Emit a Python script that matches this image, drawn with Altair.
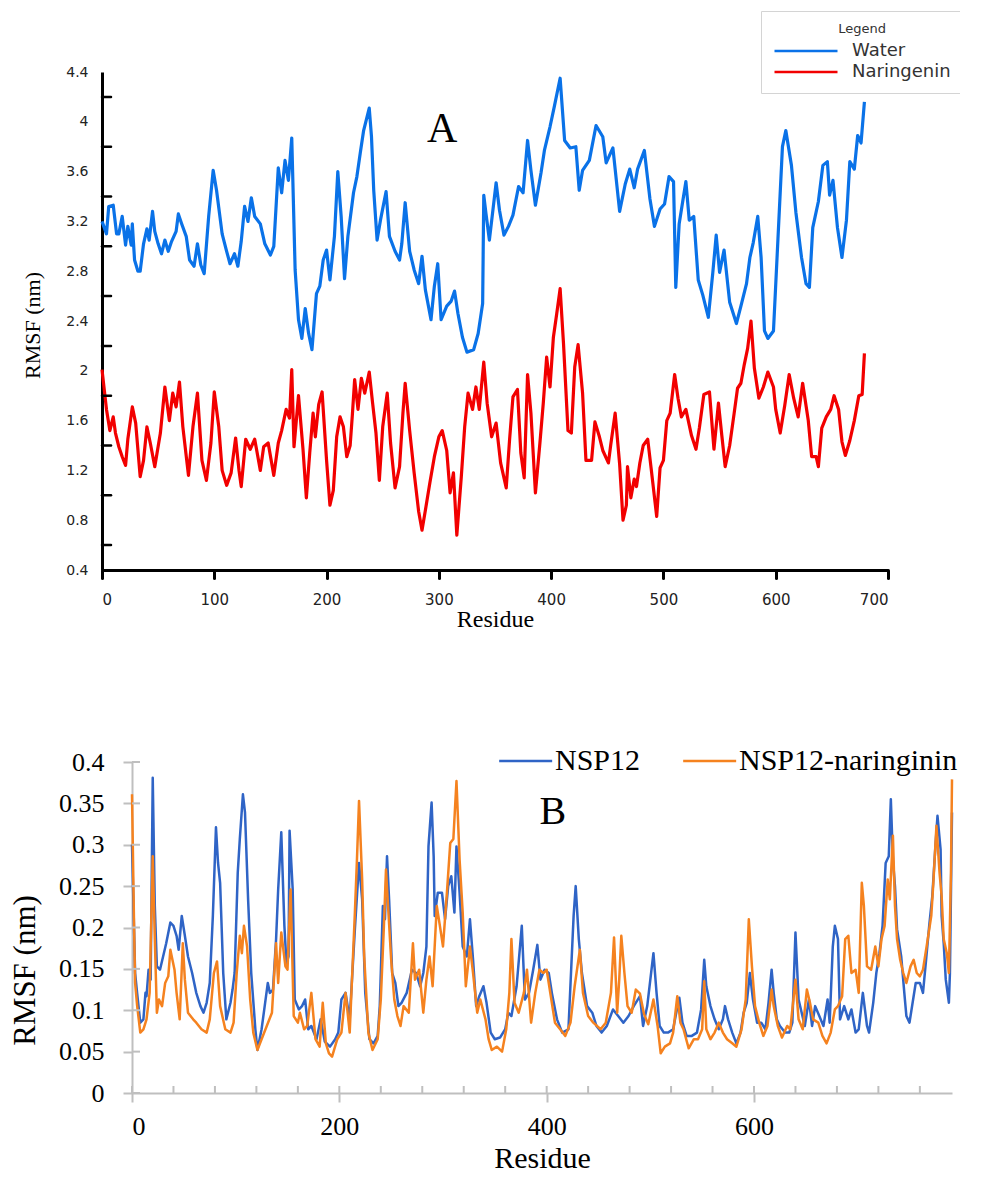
import altair as alt
import pandas as pd

# ---------------- Panel A data ----------------
water_res = [0, 4, 6, 10, 13, 15, 18, 21, 23, 26, 27, 29, 32, 34, 37, 40, 42, 45, 47, 50,
             53, 56, 59, 62, 66, 68, 71, 75, 78, 82, 85, 88, 91, 95, 99, 102, 107, 111, 114, 118,
             121, 124, 127, 130, 133, 136, 141, 145, 150, 153, 157, 160, 163, 166, 169, 172, 175, 178, 181, 184,
             187, 191, 194, 197, 200, 203, 207, 210, 213, 216, 219, 224, 227, 230, 233, 238, 240, 242, 245, 248,
             253, 256, 261, 265, 267, 270, 274, 278, 282, 285, 288, 293, 296, 299, 302, 307, 311, 314, 317, 321,
             325, 331, 335, 339, 340, 342, 345, 351, 354, 358, 362, 366, 371, 375, 379, 382, 386, 391, 394, 399,
             403, 408, 412, 417, 422, 425, 428, 434, 440, 446, 449, 455, 461, 466, 470, 474, 477, 483, 488, 492,
             497, 501, 505, 509, 511, 514, 520, 523, 527, 531, 535, 540, 544, 547, 550, 554, 559, 565, 569, 574,
             577, 580, 584, 587, 590, 593, 598, 602, 606, 609, 614, 618, 623, 627, 630, 633, 638, 642, 646, 648,
             651, 655, 659, 663, 666, 670, 673, 676, 679]
water_rmsf = [3.20, 3.10, 3.32, 3.33, 3.10, 3.10, 3.24, 3.01, 3.16, 3.01, 3.18, 2.89, 2.80, 2.80, 3.02, 3.14, 3.05, 3.28, 3.12, 3.02,
              2.94, 3.05, 2.96, 3.04, 3.12, 3.26, 3.18, 3.08, 2.89, 2.84, 3.02, 2.85, 2.78, 3.24, 3.61, 3.45, 3.10, 2.96, 2.86, 2.94,
              2.84, 3.04, 3.32, 3.20, 3.39, 3.24, 3.18, 3.02, 2.93, 3.00, 3.63, 3.43, 3.69, 3.53, 3.87, 2.81, 2.41, 2.26, 2.50, 2.30,
              2.17, 2.62, 2.68, 2.89, 2.97, 2.73, 3.08, 3.60, 3.24, 2.74, 3.08, 3.43, 3.56, 3.75, 3.93, 4.11, 3.88, 3.45, 3.05, 3.21,
              3.44, 3.08, 2.96, 2.89, 3.02, 3.35, 2.96, 2.81, 2.70, 2.92, 2.65, 2.41, 2.68, 2.86, 2.41, 2.52, 2.56, 2.64, 2.46, 2.27,
              2.15, 2.17, 2.30, 2.54, 3.41, 3.26, 3.05, 3.51, 3.29, 3.09, 3.16, 3.25, 3.48, 3.43, 3.85, 3.61, 3.33, 3.59, 3.77, 3.96,
              4.13, 4.35, 3.85, 3.79, 3.80, 3.45, 3.61, 3.69, 3.97, 3.88, 3.67, 3.79, 3.28, 3.50, 3.62, 3.47, 3.62, 3.77, 3.38, 3.16,
              3.30, 3.34, 3.56, 3.52, 2.67, 3.18, 3.52, 3.21, 3.24, 2.73, 2.61, 2.43, 2.79, 3.09, 2.79, 2.97, 2.55, 2.38, 2.52, 2.70,
              2.91, 3.03, 3.24, 2.91, 2.32, 2.26, 2.32, 3.06, 3.80, 3.93, 3.65, 3.27, 2.91, 2.70, 2.67, 3.15, 3.36, 3.65, 3.68, 3.41,
              3.53, 3.15, 2.91, 3.21, 3.68, 3.62, 3.89, 3.83, 4.16]

nar_res = [0, 4, 7, 10, 12, 15, 18, 21, 23, 27, 30, 34, 37, 40, 43, 47, 52, 56, 60, 63,
           66, 69, 72, 77, 81, 85, 89, 93, 97, 100, 104, 107, 111, 115, 119, 122, 124, 128, 132, 136,
           141, 144, 148, 153, 157, 160, 164, 167, 169, 171, 175, 179, 182, 185, 188, 190, 193, 196, 200, 203,
           206, 209, 212, 215, 218, 221, 223, 225, 228, 231, 234, 238, 241, 244, 247, 250, 254, 257, 261, 265,
           268, 270, 274, 278, 282, 285, 288, 292, 296, 300, 303, 307, 310, 313, 316, 320, 323, 326, 330, 333,
           336, 340, 343, 347, 351, 355, 360, 363, 366, 370, 373, 376, 379, 382, 386, 390, 393, 396, 399, 402,
           405, 408, 411, 415, 418, 421, 424, 428, 431, 436, 439, 443, 446, 451, 453, 457, 461, 464, 467, 468,
           471, 474, 476, 479, 482, 486, 489, 494, 497, 500, 503, 506, 510, 513, 516, 520, 525, 529, 532, 536,
           541, 545, 549, 552, 555, 559, 563, 566, 569, 572, 575, 578, 581, 585, 589, 593, 598, 600, 604, 608,
           612, 616, 620, 624, 629, 632, 636, 638, 641, 645, 649, 652, 656, 659, 662, 666, 670, 674, 677, 679]
nar_rmsf = [2.01, 1.69, 1.52, 1.63, 1.50, 1.39, 1.31, 1.24, 1.45, 1.71, 1.58, 1.15, 1.28, 1.55, 1.42, 1.23, 1.50, 1.87, 1.60, 1.82,
            1.71, 1.91, 1.55, 1.16, 1.55, 1.82, 1.28, 1.12, 1.42, 1.83, 1.55, 1.20, 1.08, 1.18, 1.46, 1.20, 1.07, 1.45, 1.37, 1.45,
            1.20, 1.39, 1.42, 1.16, 1.42, 1.52, 1.69, 1.62, 2.01, 1.39, 1.80, 1.37, 0.98, 1.34, 1.66, 1.47, 1.73, 1.83, 1.28, 0.92,
            1.04, 1.47, 1.63, 1.55, 1.31, 1.40, 1.65, 1.93, 1.69, 1.94, 1.82, 1.99, 1.74, 1.50, 1.12, 1.55, 1.82, 1.42, 1.06, 1.23,
            1.66, 1.90, 1.52, 1.18, 0.87, 0.72, 0.88, 1.10, 1.31, 1.47, 1.52, 1.36, 1.02, 1.18, 0.68, 1.15, 1.55, 1.82, 1.69, 1.87,
            1.69, 2.07, 1.74, 1.47, 1.58, 1.26, 1.06, 1.45, 1.79, 1.85, 1.34, 1.14, 1.97, 1.66, 1.02, 1.42, 1.74, 2.11, 1.87, 2.27,
            2.46, 2.66, 2.22, 1.52, 1.50, 2.03, 2.21, 1.82, 1.28, 1.28, 1.59, 1.47, 1.36, 1.26, 1.40, 1.66, 1.25, 0.80, 0.92, 1.23,
            0.98, 1.13, 1.07, 1.26, 1.40, 1.45, 1.22, 0.83, 1.22, 1.28, 1.60, 1.66, 1.97, 1.78, 1.63, 1.69, 1.48, 1.37, 1.54, 1.81,
            1.83, 1.37, 1.74, 1.48, 1.23, 1.40, 1.66, 1.86, 1.90, 2.05, 2.18, 2.40, 2.02, 1.78, 1.87, 1.99, 1.87, 1.69, 1.50, 1.72,
            1.97, 1.78, 1.63, 1.90, 1.60, 1.31, 1.31, 1.23, 1.54, 1.63, 1.69, 1.80, 1.69, 1.43, 1.32, 1.44, 1.60, 1.80, 1.81, 2.14]

a_series = ["Water", "Naringenin"]
a_colors = ["#0a72e8", "#f20000"]
a_ylabels = [0.4, 0.8, 1.2, 1.6, 2.0, 2.4, 2.8, 3.2, 3.6, 4.0, 4.4]
a_ytickmarks = [0.6, 1.0, 1.4, 1.8, 2.2, 2.6, 3.0, 3.4, 3.8, 4.2]
a_xticks = [0, 100, 200, 300, 400, 500, 600, 700]

# ---------------- Panel B data ----------------
nsp_res = [0, 3, 5, 8, 11, 13, 14, 16, 18, 20, 22, 24, 27, 30, 33, 37, 40, 43, 45, 48,
           51, 54, 58, 62, 66, 69, 72, 75, 78, 81, 83, 85, 88, 91, 95, 97, 99, 102, 104, 107,
           109, 112, 115, 119, 121, 125, 128, 131, 133, 136, 139, 141, 144, 147, 149, 151, 152, 155, 157, 161,
           164, 167, 170, 173, 178, 182, 186, 191, 196, 199, 202, 206, 210, 215, 219, 222, 225, 229, 233, 237,
           239, 242, 244, 246, 248, 251, 254, 257, 260, 265, 270, 274, 278, 281, 284, 286, 289, 291, 292, 295,
           299, 302, 305, 308, 311, 313, 316, 319, 323, 326, 329, 332, 335, 339, 342, 346, 350, 355, 360, 363,
           366, 371, 376, 379, 383, 387, 391, 394, 398, 402, 405, 410, 415, 421, 426, 428, 431, 434, 439, 444,
           448, 453, 458, 464, 469, 474, 479, 484, 490, 493, 497, 500, 503, 506, 509, 513, 517, 522, 525, 528,
           531, 535, 540, 545, 549, 552, 554, 558, 562, 566, 570, 572, 575, 579, 583, 587, 590, 593, 596, 599,
           603, 607, 611, 614, 617, 619, 622, 625, 630, 634, 637, 640, 643, 646, 649, 653, 656, 659, 663, 667,
           671, 673, 676, 678, 681, 683, 687, 691, 694, 698, 701, 705, 709, 711, 715, 718, 721, 724, 727, 730,
           732, 734, 736, 738, 742, 745, 747, 750, 753, 756, 760, 763, 766, 769, 772, 775, 777, 780, 781, 783,
           785, 788, 789, 791]
nsp_rmsf = [0.300, 0.145, 0.120, 0.085, 0.089, 0.121, 0.117, 0.149, 0.137, 0.381, 0.226, 0.153, 0.149, 0.165, 0.181, 0.206, 0.202, 0.190, 0.173, 0.214,
            0.190, 0.165, 0.145, 0.121, 0.105, 0.097, 0.109, 0.133, 0.214, 0.321, 0.278, 0.254, 0.145, 0.089, 0.109, 0.125, 0.145, 0.266, 0.307, 0.361,
            0.339, 0.234, 0.145, 0.077, 0.052, 0.077, 0.105, 0.133, 0.121, 0.125, 0.186, 0.246, 0.315, 0.202, 0.157, 0.165, 0.317, 0.246, 0.113, 0.101,
            0.105, 0.113, 0.077, 0.081, 0.065, 0.089, 0.062, 0.056, 0.065, 0.073, 0.113, 0.121, 0.089, 0.198, 0.278, 0.234, 0.121, 0.065, 0.060, 0.069,
            0.105, 0.226, 0.210, 0.286, 0.234, 0.145, 0.133, 0.105, 0.109, 0.121, 0.149, 0.145, 0.129, 0.145, 0.177, 0.298, 0.351, 0.286, 0.214, 0.242,
            0.242, 0.210, 0.250, 0.262, 0.218, 0.298, 0.242, 0.177, 0.165, 0.210, 0.161, 0.105, 0.117, 0.129, 0.109, 0.073, 0.065, 0.067, 0.077, 0.097,
            0.093, 0.129, 0.202, 0.113, 0.121, 0.149, 0.179, 0.137, 0.149, 0.145, 0.121, 0.089, 0.073, 0.077, 0.214, 0.250, 0.186, 0.145, 0.105, 0.097,
            0.081, 0.073, 0.081, 0.101, 0.093, 0.085, 0.093, 0.105, 0.117, 0.081, 0.105, 0.137, 0.169, 0.121, 0.081, 0.073, 0.073, 0.077, 0.097, 0.115,
            0.085, 0.069, 0.069, 0.073, 0.101, 0.161, 0.129, 0.105, 0.089, 0.077, 0.089, 0.105, 0.089, 0.073, 0.060, 0.073, 0.097, 0.109, 0.145, 0.113,
            0.085, 0.085, 0.077, 0.109, 0.149, 0.121, 0.089, 0.081, 0.073, 0.073, 0.085, 0.194, 0.113, 0.097, 0.081, 0.113, 0.081, 0.105, 0.093, 0.081,
            0.113, 0.085, 0.177, 0.202, 0.186, 0.089, 0.105, 0.089, 0.101, 0.073, 0.077, 0.121, 0.081, 0.073, 0.109, 0.145, 0.169, 0.202, 0.278, 0.286,
            0.355, 0.282, 0.250, 0.198, 0.165, 0.121, 0.093, 0.085, 0.109, 0.133, 0.133, 0.121, 0.161, 0.202, 0.238, 0.298, 0.335, 0.294, 0.214, 0.181,
            0.137, 0.109, 0.145, 0.339]

nspn_res = [0, 2, 3, 5, 8, 11, 14, 17, 20, 22, 24, 26, 29, 32, 35, 37, 41, 43, 46, 49,
            51, 54, 59, 62, 67, 72, 75, 79, 82, 85, 90, 95, 98, 101, 104, 106, 108, 111, 114, 117,
            121, 125, 130, 135, 139, 141, 144, 148, 150, 153, 156, 160, 162, 166, 169, 173, 177, 181, 184, 187,
            190, 193, 198, 202, 206, 210, 215, 217, 219, 222, 224, 228, 232, 237, 240, 243, 245, 247, 250, 253,
            256, 259, 262, 267, 271, 273, 277, 281, 284, 287, 290, 294, 297, 300, 304, 307, 310, 313, 316, 319,
            322, 326, 329, 333, 336, 341, 344, 347, 352, 357, 361, 364, 366, 369, 373, 378, 381, 385, 389, 393,
            397, 400, 404, 408, 413, 418, 423, 427, 432, 435, 440, 445, 452, 457, 462, 465, 468, 470, 472, 475,
            478, 482, 486, 490, 494, 498, 503, 507, 510, 514, 519, 522, 526, 529, 532, 537, 542, 546, 550, 552,
            554, 558, 562, 566, 570, 574, 579, 583, 588, 592, 595, 598, 601, 605, 609, 613, 617, 619, 623, 627,
            632, 635, 640, 643, 647, 651, 654, 657, 662, 666, 670, 674, 678, 681, 685, 688, 691, 694, 698, 701,
            704, 706, 709, 713, 717, 720, 723, 726, 729, 731, 734, 736, 738, 741, 744, 747, 751, 754, 757, 760,
            763, 767, 771, 773, 776, 779, 781, 783, 786, 788, 790, 791]
nspn_rmsf = [0.361, 0.202, 0.133, 0.105, 0.073, 0.077, 0.089, 0.121, 0.286, 0.186, 0.097, 0.113, 0.105, 0.133, 0.141, 0.173, 0.149, 0.121, 0.089, 0.181,
             0.137, 0.097, 0.089, 0.085, 0.077, 0.073, 0.089, 0.145, 0.159, 0.105, 0.077, 0.073, 0.085, 0.145, 0.190, 0.169, 0.202, 0.177, 0.113, 0.073,
             0.052, 0.065, 0.081, 0.097, 0.181, 0.133, 0.194, 0.153, 0.149, 0.246, 0.093, 0.085, 0.097, 0.077, 0.081, 0.121, 0.065, 0.056, 0.109, 0.060,
             0.048, 0.044, 0.065, 0.073, 0.121, 0.073, 0.218, 0.282, 0.353, 0.258, 0.165, 0.073, 0.052, 0.065, 0.113, 0.202, 0.270, 0.226, 0.161, 0.113,
             0.093, 0.081, 0.105, 0.097, 0.181, 0.137, 0.149, 0.097, 0.137, 0.165, 0.129, 0.226, 0.202, 0.177, 0.246, 0.302, 0.307, 0.377, 0.282, 0.218,
             0.129, 0.177, 0.145, 0.097, 0.113, 0.089, 0.065, 0.052, 0.056, 0.050, 0.077, 0.121, 0.186, 0.109, 0.097, 0.121, 0.149, 0.085, 0.121, 0.149,
             0.145, 0.149, 0.117, 0.085, 0.077, 0.069, 0.085, 0.129, 0.173, 0.121, 0.093, 0.085, 0.077, 0.085, 0.121, 0.188, 0.097, 0.137, 0.190, 0.145,
             0.105, 0.097, 0.125, 0.120, 0.095, 0.083, 0.113, 0.081, 0.048, 0.056, 0.060, 0.073, 0.117, 0.085, 0.077, 0.054, 0.065, 0.065, 0.077, 0.135,
             0.077, 0.065, 0.073, 0.085, 0.073, 0.065, 0.060, 0.056, 0.077, 0.113, 0.210, 0.153, 0.105, 0.085, 0.069, 0.081, 0.125, 0.105, 0.081, 0.067,
             0.081, 0.077, 0.137, 0.089, 0.077, 0.125, 0.109, 0.089, 0.085, 0.069, 0.060, 0.073, 0.101, 0.105, 0.117, 0.186, 0.190, 0.145, 0.149, 0.121,
             0.254, 0.226, 0.153, 0.149, 0.177, 0.153, 0.186, 0.202, 0.258, 0.234, 0.311, 0.226, 0.186, 0.161, 0.145, 0.133, 0.153, 0.161, 0.145, 0.141,
             0.149, 0.181, 0.214, 0.254, 0.323, 0.266, 0.238, 0.186, 0.169, 0.145, 0.266, 0.379]

b_series = ["NSP12", "NSP12-naringinin"]
b_colors = ["#2f64c6", "#f5821f"]
b_yticks = [0, 0.05, 0.1, 0.15, 0.2, 0.25, 0.3, 0.35, 0.4]
b_xlabels = [0, 200, 400, 600]
b_xminor = [0, 40, 80, 120, 160, 200, 240, 280, 320, 360, 400, 440, 480, 520, 560, 600, 640, 680, 720, 760]

# legend line symbol: starts at the left of the symbol box and runs 3 box-widths
LINE_SYMBOL = "M-1,0H5"
NBSP2 = "\u00a0\u00a0"

# ---------------- Panel A chart ----------------
A_W, A_H = 786, 498
dfA = pd.concat([
    pd.DataFrame({"Residue": water_res, "RMSF": water_rmsf, "Series": a_series[0]}),
    pd.DataFrame({"Residue": nar_res, "RMSF": nar_rmsf, "Series": a_series[1]}),
])

xA = alt.X("Residue:Q", scale=alt.Scale(domain=[0, 700], nice=False, zero=False),
           axis=alt.Axis(values=a_xticks, format="d", title="Residue", grid=False,
                         domainColor="black", domainWidth=3, tickColor="black", tickWidth=3,
                         tickSize=8, tickCap="round", labelFont="DejaVu Sans", labelFontSize=15,
                         labelColor="#222222", labelPadding=14, titleFont="Liberation Serif",
                         titleFontSize=24, titleFontWeight="normal", titleColor="black",
                         titlePadding=0))
yA = alt.Y("RMSF:Q", scale=alt.Scale(domain=[0.4, 4.4], nice=False, zero=False),
           axis=alt.Axis(values=a_ylabels, format="~g", title="RMSF (nm)", grid=False,
                         ticks=False, tickSize=0, domainColor="black", domainWidth=3,
                         labelFont="DejaVu Sans", labelFontSize=14, labelColor="#222222",
                         labelPadding=14, titleFont="Liberation Serif", titleFontSize=22,
                         titleFontWeight="normal", titleColor="black", titleX=-58, titleY=253,
                         titleAngle=270, titleBaseline="bottom"))
colorA = alt.Color("Series:N", sort=a_series,
                   scale=alt.Scale(domain=a_series, range=a_colors),
                   legend=alt.Legend(title="Legend", orient="none", legendX=659, legendY=-61,
                                     direction="vertical", strokeColor="#d4d4d4", fillColor="white",
                                     padding=12, titleAnchor="middle", titleFont="DejaVu Sans",
                                     titleFontSize=13, titleFontWeight="normal", titleColor="#333333",
                                     titlePadding=3, symbolType=LINE_SYMBOL, symbolSize=441,
                                     symbolStrokeWidth=2.5, labelFont="DejaVu Sans", labelFontSize=18,
                                     labelColor="#333333", labelOffset=55, rowPadding=0,
                                     labelExpr="datum.label + '" + NBSP2 + "'"))

linesA = alt.Chart(dfA).mark_line(strokeWidth=3.2, strokeJoin="round").encode(
    x=xA, y=yA, color=colorA, detail="Series:N")
yticksA = alt.Chart(pd.DataFrame({"RMSF": a_ytickmarks})).mark_rule(
    color="black", strokeWidth=2.5, strokeCap="round").encode(
    y=yA, x=alt.value(0), x2=alt.value(9))
labelA = alt.Chart(pd.DataFrame({"Residue": [303], "RMSF": [3.94], "t": ["A"]})).mark_text(
    font="Liberation Serif", fontSize=42, color="black").encode(x=xA, y=yA, text="t:N")

panelA = alt.layer(linesA, yticksA, labelA).properties(width=A_W, height=A_H)

# ---------------- Panel B chart ----------------
# panel B's plot starts 30 px to the right of panel A's: its view is 30 px wider,
# the x range starts 30 px in and its y axis is moved in by the same amount
B_SHIFT = 30
B_W, B_H = 820 + B_SHIFT, 331
dfB = pd.concat([
    pd.DataFrame({"Residue": nsp_res, "RMSF": nsp_rmsf, "Series": b_series[0]}),
    pd.DataFrame({"Residue": nspn_res, "RMSF": nspn_rmsf, "Series": b_series[1]}),
])
gray = "#bfbfbf"
xB = alt.X("Residue:Q", scale=alt.Scale(domain=[0, 791], range=[B_SHIFT, B_W], nice=False, zero=False),
           axis=alt.Axis(values=b_xlabels, format="d", title="Residue", grid=False,
                         domainColor=gray, domainWidth=2, tickColor=gray, tickWidth=2, tickSize=9,
                         labelFont="Liberation Serif", labelFontSize=26, labelColor="black",
                         labelPadding=11, titleFont="Liberation Serif", titleFontSize=30,
                         titleFontWeight="normal", titleColor="black", titlePadding=4))
yB = alt.Y("RMSF:Q", scale=alt.Scale(domain=[0, 0.4], nice=False, zero=False),
           axis=alt.Axis(values=b_yticks, format=".2~f", title="RMSF (nm)", grid=False,
                         offset=-B_SHIFT,
                         domainColor=gray, domainWidth=2, tickColor=gray, tickWidth=2, tickSize=9,
                         labelFont="Liberation Serif", labelFontSize=26, labelColor="black",
                         labelPadding=19, titleFont="Liberation Serif", titleFontSize=31,
                         titleFontWeight="normal", titleColor="black", titleX=-91, titleY=208,
                         titleAngle=270, titleBaseline="bottom"))
colorB = alt.Color("Series:N", sort=b_series,
                   scale=alt.Scale(domain=b_series, range=b_colors),
                   legend=alt.Legend(title=None, orient="none", legendX=361 + B_SHIFT, legendY=-16,
                                     direction="horizontal", symbolType=LINE_SYMBOL, symbolSize=312,
                                     symbolStrokeWidth=2.5, labelFont="Liberation Serif",
                                     labelFontSize=30, labelColor="black", labelOffset=32,
                                     columnPadding=36, padding=0, labelLimit=400))

linesB = alt.Chart(dfB).mark_line(strokeWidth=2.5, strokeJoin="round").encode(
    x=xB, y=yB, color=colorB, detail="Series:N")
yticksB = alt.Chart(pd.DataFrame({"RMSF": b_yticks})).mark_rule(color=gray, strokeWidth=2).encode(
    y=yB, x=alt.value(B_SHIFT), x2=alt.value(B_SHIFT + 8))
xticksB = alt.Chart(pd.DataFrame({"Residue": b_xminor})).mark_rule(color=gray, strokeWidth=2).encode(
    x=xB, y=alt.value(B_H), y2=alt.value(B_H - 7))
labelB = alt.Chart(pd.DataFrame({"Residue": [406], "RMSF": [0.34], "t": ["B"]})).mark_text(
    font="Liberation Serif", fontSize=40, color="black").encode(x=xB, y=yB, text="t:N")

panelB = alt.layer(linesB, yticksB, xticksB, labelB).properties(width=B_W, height=B_H)

chart = alt.vconcat(panelA, panelB, spacing=115).resolve_scale(
    color="independent", x="independent", y="independent"
).properties(
    padding={"left": 1, "top": 2, "right": -4, "bottom": 1},
    background="white",
).configure_view(stroke=None)

chart.save("out.html", embed_options={"renderer": "svg", "actions": False})
